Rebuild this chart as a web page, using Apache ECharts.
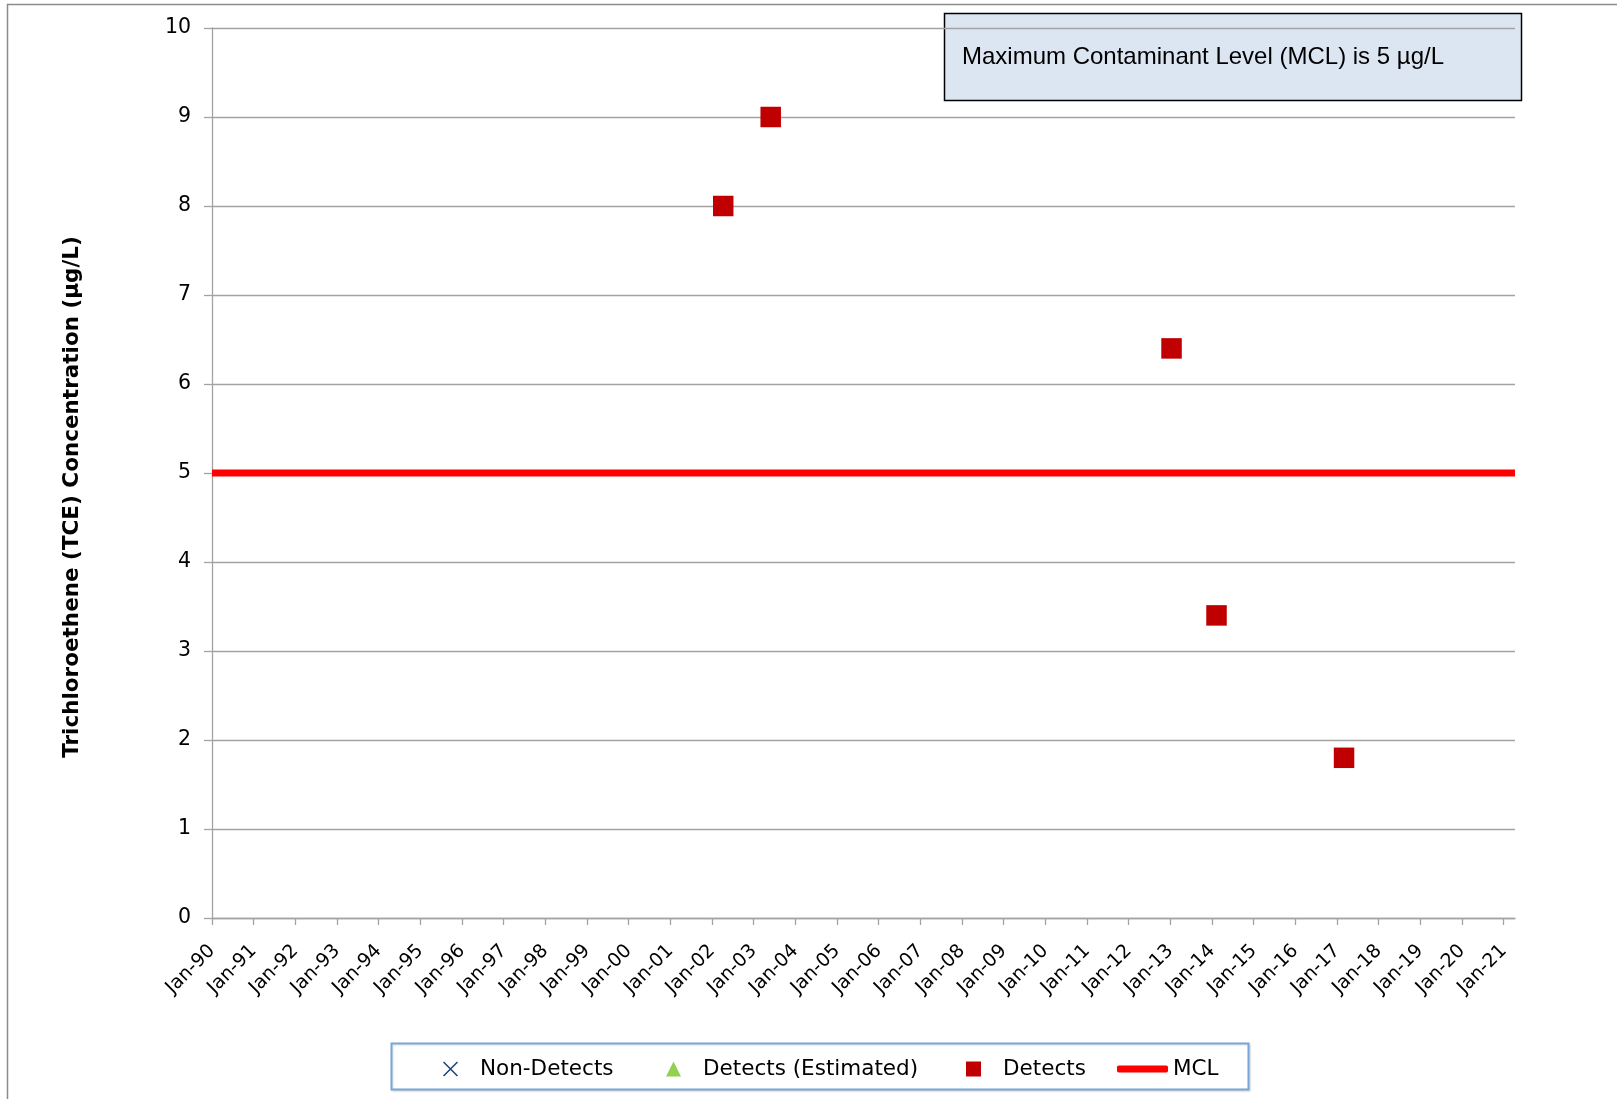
<!DOCTYPE html>
<html>
<head>
<meta charset="utf-8">
<title>Trichloroethene (TCE) Concentration</title>
<script src="https://cdn.jsdelivr.net/npm/echarts@6/dist/echarts.min.js"></script>
<style>
  html, body { margin: 0; padding: 0; background: #ffffff; }
  #chart { width: 1617px; height: 1099px; }
</style>
</head>
<body>
<div id="chart"></div>
<script>
// Sampling results (µg/L)
const detectDates = ['2002-04-09', '2003-05-30', '2013-01-11', '2014-02-09', '2017-03-03'];
const detectValues = [8, 9, 6.4, 3.4, 1.8];
const nonDetectDates = [];
const nonDetectValues = [];
const estimatedDates = [];
const estimatedValues = [];

const mclValue = 5;
const mclNote = 'Maximum Contaminant Level (MCL) is 5 µg/L';

// Year ticks along the date axis and their labels
const tickYears = [1990, 1991, 1992, 1993, 1994, 1995, 1996, 1997, 1998, 1999, 2000,
  2001, 2002, 2003, 2004, 2005, 2006, 2007, 2008, 2009, 2010,
  2011, 2012, 2013, 2014, 2015, 2016, 2017, 2018, 2019, 2020, 2021];
const tickLabels = ['Jan-90', 'Jan-91', 'Jan-92', 'Jan-93', 'Jan-94', 'Jan-95', 'Jan-96',
  'Jan-97', 'Jan-98', 'Jan-99', 'Jan-00', 'Jan-01', 'Jan-02', 'Jan-03', 'Jan-04',
  'Jan-05', 'Jan-06', 'Jan-07', 'Jan-08', 'Jan-09', 'Jan-10', 'Jan-11', 'Jan-12',
  'Jan-13', 'Jan-14', 'Jan-15', 'Jan-16', 'Jan-17', 'Jan-18', 'Jan-19', 'Jan-20', 'Jan-21'];

// axis range, in years
const axisStart = 1990;
const axisEnd = 2021.27;

// ISO date -> fractional year
function toYear(iso) {
  const t = Date.parse(iso);
  const d = new Date(t);
  const y = d.getUTCFullYear();
  const a = Date.UTC(y, 0, 1), b = Date.UTC(y + 1, 0, 1);
  return y + (t - a) / (b - a);
}
const pairs = (dates, vals) => dates.map((d, i) => [toYear(d), vals[i]]);

const FONT = '"DejaVu Sans", sans-serif';
const GRID_GREY = '#a3a3a3';
// thin "×" marker
const crossIcon = 'path://M0,0.7 L0.7,0 L10,9.3 L9.3,10 Z M9.3,0 L10,0.7 L0.7,10 L0,9.3 Z';

const chart = echarts.init(document.getElementById('chart'), null, { renderer: 'canvas' });

function legendAt(left, name, icon, color, w, h, pad) {
  return {
    left: left, top: 1057, padding: 0, orient: 'horizontal',
    itemWidth: w, itemHeight: h,
    data: [{ name: name, icon: icon, itemStyle: { color: color, borderWidth: 0, opacity: 1 } }],
    textStyle: { fontFamily: FONT, fontSize: 21.5, color: '#000', lineHeight: 24, padding: [0, 0, 0, pad] },
    selectedMode: false
  };
}

chart.setOption({
  animation: false,
  backgroundColor: '#ffffff',
  grid: { left: 212, right: 102, top: 28, bottom: 181, containLabel: false, outerBoundsMode: 'none' },
  xAxis: {
    type: 'value',
    min: axisStart,
    max: axisEnd,
    splitLine: { show: false },
    axisLine: { show: true, lineStyle: { color: GRID_GREY, width: 1.3 } },
    axisTick: { show: true, length: 7, lineStyle: { color: GRID_GREY, width: 1.3 }, customValues: tickYears },
    axisLabel: {
      customValues: tickYears,
      rotate: 45,
      margin: 30,
      color: '#000',
      fontFamily: FONT,
      fontSize: 19,
      formatter: function (v) {
        const i = tickYears.indexOf(Math.round(v));
        return i >= 0 ? tickLabels[i] : '';
      }
    }
  },
  yAxis: {
    type: 'value',
    min: 0, max: 10, interval: 1,
    name: 'Trichloroethene (TCE) Concentration (µg/L)',
    nameLocation: 'middle',
    nameRotate: 90,
    nameGap: 129,
    nameTextStyle: { fontFamily: FONT, fontSize: 21.5, fontWeight: 'bold', color: '#000', padding: [0, 48, 0, 0] },
    axisLine: { show: true, lineStyle: { color: GRID_GREY, width: 1.3 } },
    axisTick: { show: true, length: 8, lineStyle: { color: GRID_GREY, width: 1.3 } },
    splitLine: { show: true, lineStyle: { color: GRID_GREY, width: 1.3 } },
    axisLabel: { margin: 21, color: '#000', fontFamily: FONT, fontSize: 20.5 }
  },
  legend: [
    legendAt(443, 'Non-Detects', crossIcon, '#1f3f7a', 15, 15, 17),
    legendAt(666, 'Detects (Estimated)', 'triangle', '#92d050', 15, 15, 17),
    legendAt(966, 'Detects', 'rect', '#c00000', 15, 15, 17),
    legendAt(1117, 'MCL', 'roundRect', '#ff0000', 51, 7, 0)
  ],
  series: [
    {
      name: 'Non-Detects', type: 'scatter', symbol: crossIcon, symbolSize: 15,
      itemStyle: { color: '#1f3f7a', opacity: 1 }, data: pairs(nonDetectDates, nonDetectValues), z: 4
    },
    {
      name: 'Detects (Estimated)', type: 'scatter', symbol: 'triangle', symbolSize: 16,
      itemStyle: { color: '#92d050', opacity: 1 }, data: pairs(estimatedDates, estimatedValues), z: 4
    },
    {
      name: 'Detects', type: 'scatter', symbol: 'rect', symbolSize: 20.5,
      itemStyle: { color: '#c00000', opacity: 1 }, data: pairs(detectDates, detectValues), z: 5
    },
    {
      name: 'MCL', type: 'line', symbol: 'none', silent: true,
      lineStyle: { color: '#ff0000', width: 7, cap: 'butt' },
      itemStyle: { color: '#ff0000' },
      data: [[axisStart, mclValue], [axisEnd, mclValue]], z: 3
    }
  ],
  graphic: [
    {
      // chart area frame
      type: 'rect', silent: true, z: -1,
      shape: { x: 7.5, y: 4.5, width: 1700, height: 1200 },
      style: { fill: 'none', stroke: '#8c8c8c', lineWidth: 1.5 }
    },
    {
      // legend frame
      type: 'rect', silent: true, z: 0,
      shape: { x: 391.5, y: 1043.5, width: 857, height: 46 },
      style: { fill: '#ffffff', stroke: '#79a5da', lineWidth: 2, shadowColor: 'rgba(0,0,0,0.12)', shadowBlur: 2, shadowOffsetX: 1, shadowOffsetY: 1 }
    },
    {
      // MCL note box
      type: 'group', z: 100,
      children: [
        {
          type: 'rect',
          shape: { x: 944.5, y: 13.5, width: 577, height: 87 },
          style: { fill: '#dce6f2', stroke: '#000000', lineWidth: 1.5 }
        },
        {
          type: 'text',
          style: {
            x: 962, y: 57, text: mclNote, fill: '#000',
            font: '24px "Liberation Sans", sans-serif',
            verticalAlign: 'middle'
          }
        }
      ]
    }
  ]
});
</script>
</body>
</html>
